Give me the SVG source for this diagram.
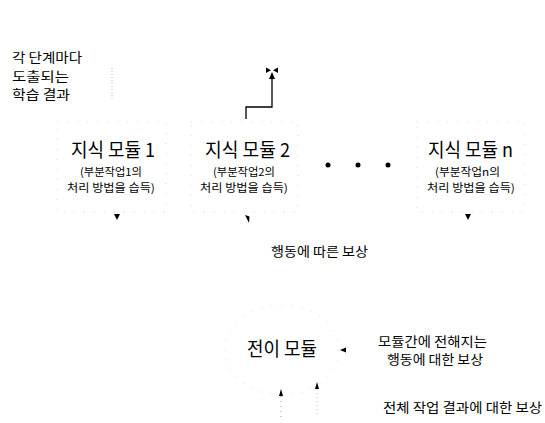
<svg xmlns="http://www.w3.org/2000/svg" width="545" height="423" viewBox="0 0 545 423">
<style>
  text { font-family: "Noto Sans CJK KR", "Noto Sans", sans-serif; fill: #000; }
  .t13 { font-size: 13px; }
  .t11 { font-size: 11px; }
  .title { font-size: 19px; }
  .faint { fill: none; stroke: #d8d8d8; stroke-width: 1; stroke-dasharray: 1 9; }
  .line { fill: none; stroke: #000; stroke-width: 1.3; }
  .head { fill: #000; stroke: none; }
</style>
<rect width="545" height="423" fill="#fff"/>

<g id="label-learning">
  <text class="t13" x="12" y="62" textLength="70" lengthAdjust="spacingAndGlyphs">각 단계마다</text>
  <text class="t13" x="12" y="81" textLength="57" lengthAdjust="spacingAndGlyphs">도출되는</text>
  <text class="t13" x="12" y="99" textLength="58" lengthAdjust="spacingAndGlyphs">학습 결과</text>
  <line class="faint" x1="112" y1="68" x2="112" y2="100" style="stroke:#bbb;stroke-dasharray:1 2"/>
</g>

<g id="module-1">
  <path class="faint" d="M57,122 H166 V212 H57 Z"/>
  <text class="title" x="71" y="157" textLength="84" lengthAdjust="spacingAndGlyphs">지식 모듈 1</text>
  <text class="t11" x="80" y="176" textLength="62" lengthAdjust="spacingAndGlyphs">(부분작업1의</text>
  <text class="t11" x="67" y="192" textLength="88" lengthAdjust="spacingAndGlyphs">처리 방법을 습득)</text>
</g>

<g id="module-2">
  <path class="faint" d="M191,122 H298 V212 H191 Z"/>
  <text class="title" x="205" y="157" textLength="85" lengthAdjust="spacingAndGlyphs">지식 모듈 2</text>
  <text class="t11" x="213" y="176" textLength="62" lengthAdjust="spacingAndGlyphs">(부분작업2의</text>
  <text class="t11" x="200" y="192" textLength="88" lengthAdjust="spacingAndGlyphs">처리 방법을 습득)</text>
</g>

<g id="ellipsis">
  <circle cx="328" cy="165" r="2.5" fill="#000"/>
  <circle cx="358" cy="165" r="2.5" fill="#000"/>
  <circle cx="388" cy="165" r="2.5" fill="#000"/>
</g>

<g id="module-n">
  <path class="faint" d="M417,122 H525 V212 H417 Z"/>
  <text class="title" x="428" y="157" textLength="85" lengthAdjust="spacingAndGlyphs">지식 모듈 n</text>
  <text class="t11" x="435" y="176" textLength="65" lengthAdjust="spacingAndGlyphs">(부분작업n의</text>
  <text class="t11" x="427" y="192" textLength="88" lengthAdjust="spacingAndGlyphs">처리 방법을 습득)</text>
</g>

<g id="transfer-module">
  <ellipse class="faint" cx="282" cy="350" rx="57" ry="45"/>
  <text class="title" x="247" y="356" textLength="70" lengthAdjust="spacingAndGlyphs">전이 모듈</text>
</g>

<g id="labels">
  <text class="t13" x="271" y="256" textLength="97" lengthAdjust="spacingAndGlyphs">행동에 따른 보상</text>
  <text class="t13" x="378" y="346" textLength="109" lengthAdjust="spacingAndGlyphs">모듈간에 전해지는</text>
  <text class="t13" x="387" y="364" textLength="96" lengthAdjust="spacingAndGlyphs">행동에 대한 보상</text>
  <text class="t13" x="383" y="412" textLength="159" lengthAdjust="spacingAndGlyphs">전체 작업 결과에 대한 보상</text>
</g>

<g id="connectors">
  <polyline class="line" points="246,119 246,107 272,107 272,76"/>
  <polygon class="head" points="272,72 269,79 275,79"/>
  <polygon class="head" points="266,67.5 266,73 271,70.3"/>
  <polygon class="head" points="278,67.5 278,73 273,70.3"/>

  <polygon class="head" points="114,214 120,214 117,220"/>
  <polygon class="head" points="245,215 249.5,216.5 249,223"/>
  <polygon class="head" points="465,214 471,214 468,220"/>

  <polygon class="head" points="340,350 346,347.5 346,352.5"/>

  <line x1="281" y1="396" x2="281" y2="421" style="stroke:#999;stroke-dasharray:1 4"/>
  <polygon class="head" points="281,389 279,396 283,396"/>
  <line x1="317" y1="389" x2="317" y2="414" style="stroke:#bbb;stroke-dasharray:1 3"/>
  <polygon class="head" points="317,382 315,389 319,389"/>
</g>
</svg>
